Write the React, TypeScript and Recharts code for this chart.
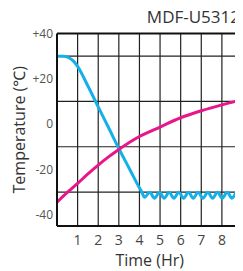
import { CartesianGrid, Line, LineChart, ReferenceLine, XAxis, YAxis } from "recharts";

// pull-down curve (cyan) – hours / °C
const pullDownHours = [0, 0.3, 0.55, 0.8, 1.0, 1.5, 2, 2.5, 3, 3.5, 3.9, 4.1, 4.25, 4.5, 4.73, 4.97, 5.2, 5.44, 5.67, 5.91, 6.14, 6.38, 6.61, 6.85, 7.08, 7.32, 7.55, 7.79, 8.02, 8.26, 8.49, 8.73, 8.96, 9];
const pullDownTemps = [30, 30, 29.4, 27.8, 25.5, 16.8, 7.6, -1.5, -10.8, -19.5, -26.5, -29.8, -32.3, -30.1, -32.7, -30.1, -32.7, -30.1, -32.7, -30.1, -32.7, -30.1, -32.7, -30.1, -32.7, -30.1, -32.7, -30.1, -32.7, -30.1, -32.7, -30.1, -32.7, -32.5];

// warm-up curve (magenta)
const warmUpHours = [0, 0.5, 1, 1.5, 2, 2.5, 3, 4, 5, 6, 7, 8, 9];
const warmUpTemps = [-34.5, -30.2, -26.2, -22, -18.1, -14.5, -11.2, -5.5, -1.3, 2.8, 5.9, 8.5, 10.8];

const yTicks = [-40, -20, 0, 20, 40];
const xTicks = [1, 2, 3, 4, 5, 6, 7, 8, 9];
const hGrid = [-40, -30, -20, -10, 0, 10, 20, 30];
const vGrid = [1, 2, 3, 4, 5, 6, 7, 8];

const pullDown = pullDownHours.map((t, i) => ({ t, v: pullDownTemps[i] }));
const warmUp = warmUpHours.map((t, i) => ({ t, v: warmUpTemps[i] }));

const font = "'Open Sans', 'Noto Sans', sans-serif";
const fmtY = (v: number) => (v > 0 ? `+${v}` : `${v}`);

export default function App() {
  return (
    <div style={{ position: "relative", margin: "-8px 0 0 -8px", width: 243, height: 271, overflow: "hidden", fontFamily: font }}>
      <div style={{ position: "absolute", top: 0, left: 0, width: 243, height: 1, background: "#777" }} />
      <div style={{ position: "absolute", top: 8, left: 0, width: 240, textAlign: "right", fontSize: 17, lineHeight: 1, color: "#333" }}>
        MDF-U5312
      </div>
      <LineChart width={260} height={271} margin={{ top: 33.5, right: 17.5, bottom: 0, left: 0 }}>
        <CartesianGrid stroke="#222" strokeWidth={1.2} horizontalValues={hGrid} verticalValues={vGrid} />
        <XAxis
          type="number"
          dataKey="t"
          domain={[0, 9]}
          ticks={xTicks}
          height={45}
          tickLine={false}
          tickSize={0}
          tickMargin={9}
          axisLine={{ stroke: "#111", strokeWidth: 2 }}
          tick={{ fontSize: 14, fill: "#444", fontFamily: font }}
          label={{ value: "Time (Hr)", position: "insideBottom", offset: 5, fontSize: 16, fill: "#333", fontFamily: font }}
          allowDataOverflow
        />
        <YAxis
          type="number"
          domain={[-45, 40]}
          ticks={yTicks}
          width={57}
          tickLine={false}
          tickSize={0}
          tickMargin={4}
          tickFormatter={fmtY}
          axisLine={{ stroke: "#111", strokeWidth: 2 }}
          tick={{ fontSize: 12, fill: "#555", fontFamily: font }}
          label={{ value: "Temperature (℃)", angle: -90, position: "insideLeft", offset: 19, fontSize: 16, fill: "#333", fontFamily: font, style: { textAnchor: "middle" } }}
          allowDataOverflow
        />
        <ReferenceLine y={40} stroke="#111" strokeWidth={2} />
        <ReferenceLine x={9} stroke="#222" strokeWidth={1.2} />
        <Line data={pullDown} dataKey="v" type="monotone" stroke="#13b0ea" strokeWidth={3} dot={false} isAnimationActive={false} />
        <Line data={warmUp} dataKey="v" type="monotone" stroke="#e8168a" strokeWidth={3} dot={false} isAnimationActive={false} />
      </LineChart>
    </div>
  );
}
